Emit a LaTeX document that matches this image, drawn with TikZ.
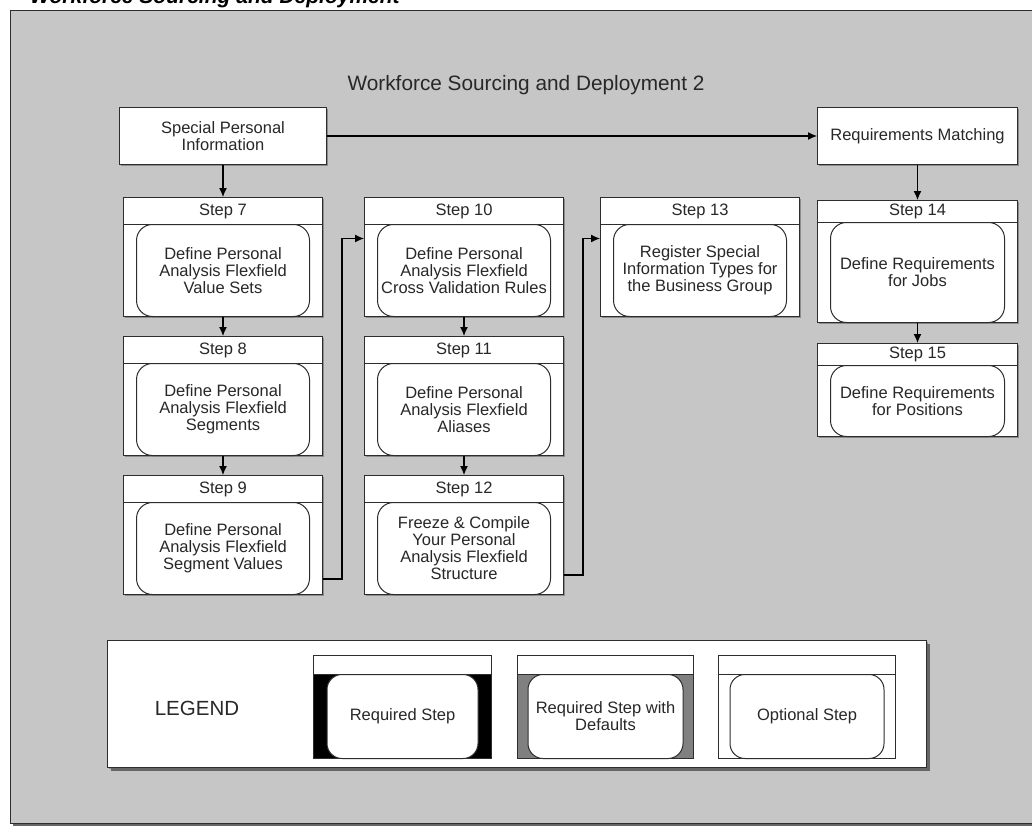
\documentclass[tikz,border=0pt]{standalone}
\usepackage{fontspec}
\setmainfont{Liberation Sans}
\usetikzlibrary{shapes,arrows.meta,positioning,shadows}
\definecolor{panelgray}{RGB}{198,198,198}
\definecolor{linegray}{RGB}{45,45,45}
\definecolor{textgray}{RGB}{40,40,40}
\definecolor{defaultgray}{RGB}{128,128,128}

\begin{document}
\begin{tikzpicture}[x=1pt,y=-1pt,
    >={Latex[length=9pt,width=8pt]},
    every node/.style={font=\fontsize{16.5}{17}\selectfont, text=textgray, inner sep=0pt},
    legbox/.style={draw=linegray, line width=1pt, fill=white, anchor=north west},
    box/.style={legbox, drop shadow={shadow xshift=1.5pt, shadow yshift=-1.5pt, fill=black!45, opacity=1}},
    stephead/.style={box, minimum width=199pt, minimum height=27pt},
    stepbody/.style={box, minimum width=199pt, minimum height=92pt},
    steptext/.style={draw=linegray, line width=1pt, fill=white, rounded corners=16pt, align=center, minimum width=173pt, minimum height=92pt},
    link/.style={->, line width=1.2pt, black}]
    \useasboundingbox (0,0) rectangle (1032,829);

    % panel
    \fill[black!60] (13,14) rectangle (1050,826);
    \draw[draw=linegray, line width=1pt, fill=panelgray] (10,11) rectangle (1045,823);
    \node[anchor=base west, text=black, font=\bfseries\itshape\fontsize{21}{24}\selectfont] (pagetitle) at (30,4) {Workforce Sourcing and Deployment};
    \node[font=\fontsize{20.8}{24}\selectfont] (title) at (526,85) {Workforce Sourcing and Deployment 2};

    % top boxes
    \node[box, minimum width=207pt, minimum height=57pt, align=center] (spi) at (119,107) {Special Personal\\Information};
    \node[box, minimum width=200pt, minimum height=57pt] (rm) at (817,107) {Requirements Matching};

    % column 1
    \node[stephead] (h7) at (123,197) {Step 7};
    \node[stepbody] (b7) at (123,224) {};
    \node[steptext] (t7) at (b7) {Define Personal\\Analysis Flexfield\\Value Sets};
    \node[stephead] (h8) at (123,336) {Step 8};
    \node[stepbody] (b8) at (123,363) {};
    \node[steptext] (t8) at (b8) {Define Personal\\Analysis Flexfield\\Segments};
    \node[stephead] (h9) at (123,475) {Step 9};
    \node[stepbody] (b9) at (123,502) {};
    \node[steptext] (t9) at (b9) {Define Personal\\Analysis Flexfield\\Segment Values};

    % column 2
    \node[stephead] (h10) at (364,197) {Step 10};
    \node[stepbody] (b10) at (364,224) {};
    \node[steptext] (t10) at (b10) {Define Personal\\Analysis Flexfield\\Cross Validation Rules};
    \node[stephead] (h11) at (364,336) {Step 11};
    \node[stepbody] (b11) at (364,363) {};
    \node[steptext] (t11) at (b11) {Define Personal\\Analysis Flexfield\\Aliases};
    \node[stephead] (h12) at (364,475) {Step 12};
    \node[stepbody] (b12) at (364,502) {};
    \node[steptext] (t12) at (b12) {Freeze \& Compile\\Your Personal\\Analysis Flexfield\\Structure};

    % column 3
    \node[stephead] (h13) at (600,197) {Step 13};
    \node[stepbody] (b13) at (600,224) {};
    \node[steptext] (t13) at (b13) {Register Special\\Information Types for\\the Business Group};

    % column 4
    \node[stephead, minimum width=200pt, minimum height=22pt] (h14) at (817,200) {Step 14};
    \node[stepbody, minimum width=200pt, minimum height=100pt] (b14) at (817,222) {};
    \node[steptext, minimum width=174pt, minimum height=100pt] (t14) at (b14) {Define Requirements\\for Jobs};
    \node[stephead, minimum width=200pt, minimum height=22pt] (h15) at (817,343) {Step 15};
    \node[stepbody, minimum width=200pt, minimum height=71pt] (b15) at (817,365) {};
    \node[steptext, minimum width=174pt, minimum height=71pt] (t15) at (b15) {Define Requirements\\for Positions};

    % connectors
    \draw[link] (spi) -- (rm);
    \draw[link] (spi) -- (h7);
    \draw[link] (rm) -- (h14);
    \draw[link] (b7) -- (h8);
    \draw[link] (b8) -- (h9);
    \draw[link] (b10) -- (h11);
    \draw[link] (b11) -- (h12);
    \draw[link] (b14) -- (h15);
    \draw[link] ([yshift=-30.5pt]b9.east) -- ++(19,0) |- ([yshift=32pt]b10.west);
    \draw[link] ([yshift=-26.5pt]b12.east) -- ++(19,0) |- ([yshift=32pt]b13.west);

    % legend
    \node[box, minimum width=819pt, minimum height=127pt, drop shadow={shadow xshift=3pt, shadow yshift=-3pt, fill=black!60, opacity=1}] (legend) at (107,640) {};
    \node[font=\fontsize{20.5}{24}\selectfont] (legendlabel) at (197,708) {LEGEND};
    \node[legbox, minimum width=178pt, minimum height=19pt] (lh1) at (313,655) {};
    \node[legbox, minimum width=178pt, minimum height=84pt, fill=black] (lb1) at (313,674) {};
    \node[steptext, minimum width=151pt, minimum height=84pt, rounded corners=15pt] (lt1) at (lb1) {Required Step};
    \node[legbox, minimum width=176pt, minimum height=19pt] (lh2) at (517,655) {};
    \node[legbox, minimum width=176pt, minimum height=84pt, fill=defaultgray] (lb2) at (517,674) {};
    \node[steptext, minimum width=155pt, minimum height=84pt, rounded corners=15pt] (lt2) at (lb2) {Required Step with\\Defaults};
    \node[legbox, minimum width=177pt, minimum height=19pt] (lh3) at (718,655) {};
    \node[legbox, minimum width=177pt, minimum height=84pt] (lb3) at (718,674) {};
    \node[steptext, minimum width=154pt, minimum height=84pt, rounded corners=15pt] (lt3) at (lb3) {Optional Step};
\end{tikzpicture}
\end{document}
